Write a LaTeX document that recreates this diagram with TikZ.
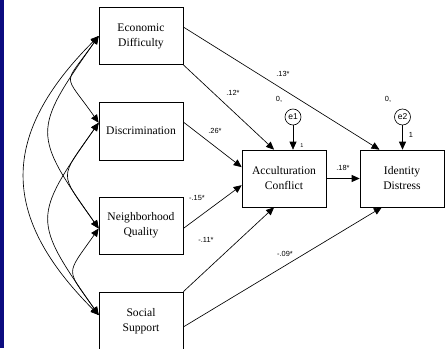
\documentclass[tikz,border=0pt]{standalone}
\usepackage{fontspec}
\setmainfont{Liberation Serif}
\newfontfamily\labelfont{Liberation Sans}
\usetikzlibrary{arrows.meta}

\definecolor{navyband}{RGB}{12,12,128}

\tikzset{
  varbox/.style={draw, minimum width=84pt, minimum height=57pt, inner sep=0pt,
    align=center, font=\fontsize{11.6}{15}\selectfont},
  errnode/.style={draw, circle, minimum size=16pt, inner sep=0pt,
    font=\labelfont\fontsize{8.5}{9}\selectfont},
  coef/.style={inner sep=0pt, font=\labelfont\fontsize{7.4}{8}\selectfont},
  effect/.style={-{Triangle[length=8pt,width=7pt]}},
  corr/.style={{Triangle[length=8pt,width=7pt]}-{Triangle[length=8pt,width=7pt]}},
}

\begin{document}
\begin{tikzpicture}[x=1pt, y=1pt, line width=0.65pt]
    \useasboundingbox (0,0) rectangle (446,-348);
    \clip (0,0) rectangle (446,-348);
    \fill [navyband] (0,0) rectangle (4,-348);

    % predictors
    \node [varbox] (econ) at (141,-36) {Economic\\Difficulty};
    \node [varbox, minimum height=58pt] (discr) at (141,-131) {Discrimination};
    \node [varbox] (neigh) at (141,-225.5) {Neighborhood\\Quality};
    \node [varbox, minimum height=58pt] (social) at (141,-321) {Social\\Support};

    % outcomes and errors
    \node [varbox] (accult) at (284,-178.5) {Acculturation\\Conflict};
    \node [varbox] (ident) at (402,-178.5) {Identity\\Distress};
    \node [errnode] (e1) at (293,-117) {e1};
    \node [errnode] (e2) at (402.5,-117) {e2};

    % correlations
    \draw [corr] (econ.west) to[out=235, in=125, distance=63] (discr.169);
    \draw [corr] (econ.west) to[out=235, in=125, distance=116] (neigh.184);
    \draw [corr] (econ.west) to[out=225, in=135, distance=140] (social.172);
    \draw [corr] (discr.169) to[out=235, in=125, distance=70] (neigh.184);
    \draw [corr] (discr.169) to[out=235, in=125, distance=116] (social.172);
    \draw [corr] (neigh.184) to[out=235, in=125, distance=58] (social.172);

    % paths
    \draw [effect] (econ.12) -- (ident.128);
    \draw [effect] (econ.south east) -- (accult.109);
    \draw [effect] (discr.12) -- (accult.165);
    \draw [effect] (neigh.356) -- (accult.189);
    \draw [effect] (social.north east) -- (accult.251);
    \draw [effect] (social.352) -- (ident.235);
    \draw [effect] (accult.east) -- (ident.west);
    \draw [effect] (e1) -- (e1 |- accult.north);
    \draw [effect] (e2) -- (e2 |- ident.north);

    % estimates
    \node [coef] (b13) at (283,-74) {.13*};
    \node [coef] (b12) at (233,-93) {.12*};
    \node [coef] (b26) at (215,-131) {.26*};
    \node [coef] (b15) at (197,-198) {-.15*};
    \node [coef] (b11) at (206,-240) {-.11*};
    \node [coef] (b09) at (285,-254) {-.09*};
    \node [coef] (b18) at (343,-168) {.18*};
    \node [coef] (v1) at (279,-99) {0,};
    \node [coef] (v2) at (388,-99) {0,};
    \node [coef, font=\labelfont\fontsize{5.5}{6}\selectfont] (w1) at (302,-146) {1};
    \node [coef] (w2) at (411,-135) {1};
\end{tikzpicture}
\end{document}
